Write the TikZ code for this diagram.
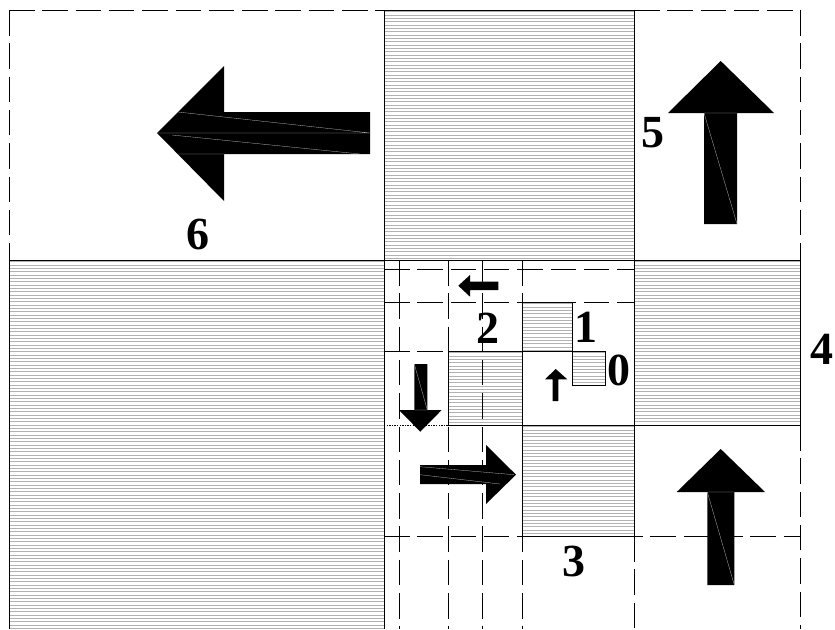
\documentclass[tikz,border=0pt]{standalone}
\usepackage{fontspec}
\setmainfont{Liberation Serif}
\tikzset{
  solidline/.style={line width=0.9pt},
  dashline/.style={line width=0.9pt, dash pattern=on 25.5pt off 7.8pt},
  dotline/.style={line width=0.8pt, dash pattern=on 1.3pt off 1.3pt},
  hatchline/.style={gray!60, line width=0.75pt},
  seam/.style={gray!55, line width=0.3pt},
  arrowfill/.style={fill=black},
  lbl/.style={font=\fontsize{46}{46}\selectfont\bfseries, inner sep=0pt},
}
\newcommand{\hatchbox}[4]{%
  \begin{scope}
    \clip (#1,#2) rectangle (#3,#4);
    \pgfmathtruncatemacro{\hnn}{(#4-#2)/3.333+1}
    \foreach \k in {0,...,\hnn}{
      \draw[hatchline] (#1,{#2+1.6+\k*3.333}) -- (#3,{#2+1.6+\k*3.333});
    }
  \end{scope}}
\begin{document}
\begin{tikzpicture}[x=1pt,y=-1pt]
\useasboundingbox (0,0) rectangle (835,629);
\fill[white] (0,0) rectangle (835,629);
% hatched squares
\hatchbox{384}{10}{634}{260}
\hatchbox{9}{260}{384}{629}
\hatchbox{634}{260}{800}{425}
\hatchbox{522}{425}{634}{536}
\hatchbox{448}{351}{522}{425}
\hatchbox{522}{302}{572}{351}
\hatchbox{572}{351}{605}{385}
% dashed outer lines
\draw[dashline] (9,10) -- (384,10);
\draw[dashline] (9,10) -- (9,260);
\draw[dashline] (634,10) -- (800,10);
\draw[dashline] (800,10) -- (800,260);
\draw[dashline] (800,425) -- (800,629);
% inner dashed grid
\draw[dashline] (384,269) -- (634,269);
\draw[dashline] (384,302) -- (634,302);
\draw[dashline] (384,351) -- (448,351);
\draw[dashline] (384,536) -- (800,536);
\draw[dashline] (399,260) -- (399,629);
\draw[dashline] (448,260) -- (448,629);
\draw[dashline] (482,260) -- (482,629);
\draw[dashline] (522,260) -- (522,629);
\draw[dashline] (634,536) -- (634,629);
\draw[dotline] (384,425) -- (448,425);
% solid lines
\draw[solidline] (9,260) -- (800,260);
\draw[solidline] (384,10) -- (384,629);
\draw[solidline] (9,260) -- (9,629);
\draw[solidline] (384,10) rectangle (634,260);
\draw[solidline] (634,260) rectangle (800,425);
\draw[solidline] (522,425) rectangle (634,536);
\draw[solidline] (448,351) rectangle (522,425);
\draw[solidline] (522,302) rectangle (572,351);
\draw[solidline] (572,351) rectangle (605,385);
% arrows
\fill[arrowfill] (157,133) -- (224,66) -- (224,112) -- (370,112) -- (370,154) -- (224,154) -- (224,201) -- cycle;
\draw[seam] (178,112) -- (370,133) (157,133) -- (370,133) (172,135) -- (360,154) (178,154) -- (224,154);
\fill[arrowfill] (720.7,61) -- (774,113) -- (737,113) -- (737,224) -- (704,224) -- (704,113) -- (668,113) -- cycle;
\draw[seam] (704,113) -- (737,224) (704,113) -- (737,113);
\fill[arrowfill] (720.7,449) -- (765,492) -- (734.3,492) -- (734.3,585) -- (707.3,585) -- (707.3,492) -- (676.7,492) -- cycle;
\draw[seam] (707.3,492) -- (734.3,585) (707.3,492) -- (734.3,492);
\fill[arrowfill] (516,474.7) -- (486,504) -- (486,484) -- (420,484) -- (420,465) -- (486,465) -- (486,445) -- cycle;
\draw[seam] (420,466.7) -- (514,474.7) (420,474.7) -- (500,484);
\fill[arrowfill] (420.3,431.7) -- (399,410) -- (414.3,410) -- (414.3,364) -- (427.3,364) -- (427.3,410) -- (441.7,410) -- cycle;
\draw[seam] (414.3,364) -- (427.3,410) (414.3,410) -- (427.3,410);
\fill[arrowfill] (458.3,285.7) -- (470,275) -- (470,281.7) -- (498.3,281.7) -- (498.3,290) -- (470,290) -- (470,296.7) -- cycle;
\fill[arrowfill] (555.7,369) -- (567.3,379.3) -- (558.3,379.3) -- (558.3,401) -- (552.7,401) -- (552.7,379.3) -- (545,379.3) -- cycle;
% labels
\node[lbl] (l6) at (197.5,234) {6};
\node[lbl] (l5) at (652.5,132.5) {5};
\node[lbl] (l4) at (821.7,349) {4};
\node[lbl] (l3) at (574,561) {3};
\node[lbl] (l2) at (487.5,328) {2};
\node[lbl] (l1) at (585.5,327) {1};
\node[lbl] (l0) at (619,370) {0};
\end{tikzpicture}
\end{document}
